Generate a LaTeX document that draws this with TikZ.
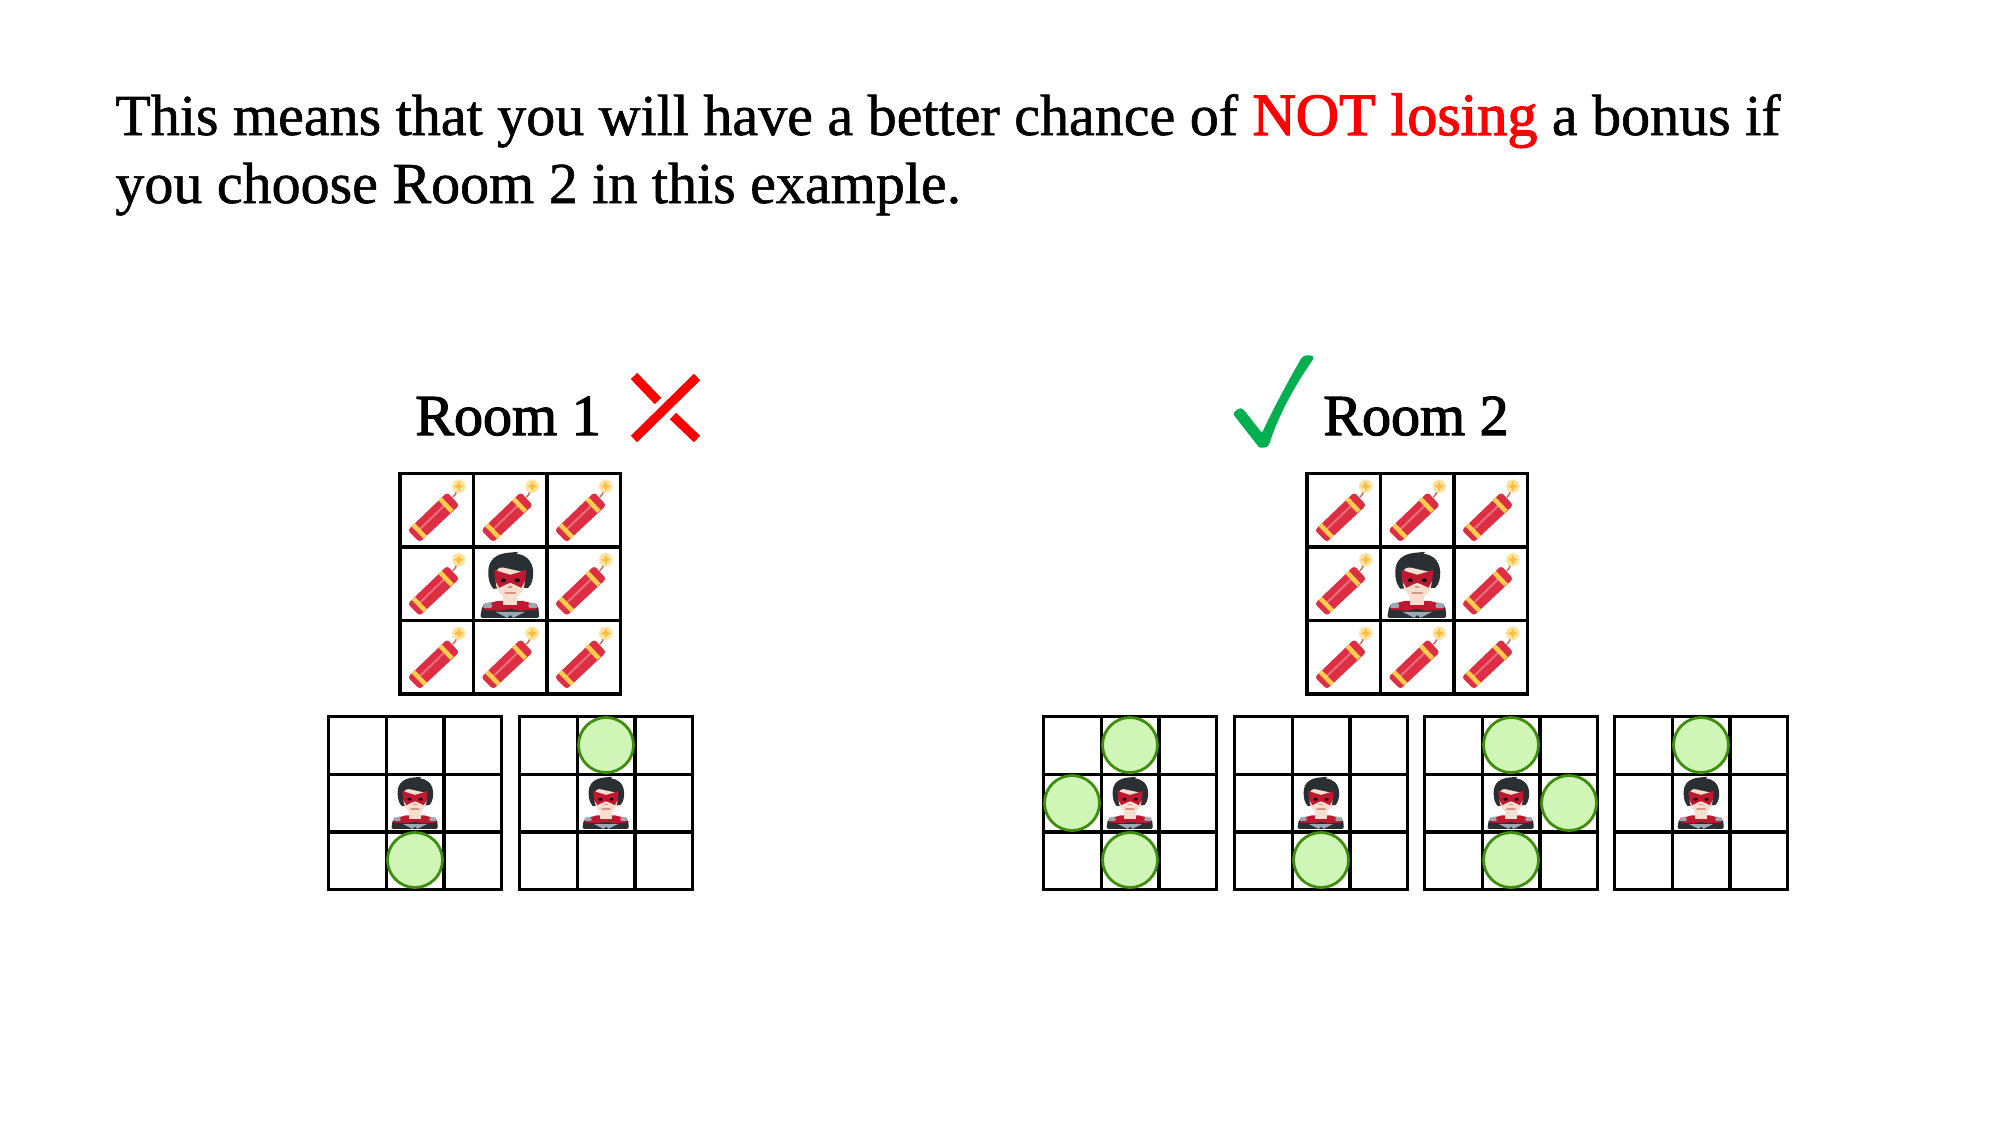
\documentclass[tikz,border=0pt]{standalone}
\usepackage{fontspec}
\setmainfont{Liberation Serif}
\newfontfamily\headfont[FakeBold=1]{Liberation Serif}
\newfontfamily\titlefont[FakeBold=2]{Liberation Serif}
\usepackage{tikz}
\definecolor{bang}{HTML}{DD2E44}
\definecolor{bandy}{HTML}{FFCC4D}
\definecolor{sparky}{HTML}{FDE3A0}
\definecolor{fuse}{HTML}{C1694F}
\definecolor{hair}{HTML}{292F33}
\definecolor{skin}{HTML}{F7DECE}
\definecolor{mask}{HTML}{BE1931}
\definecolor{steel}{HTML}{99AAB5}
\definecolor{tokenfill}{HTML}{CFF6B6}
\definecolor{tokenline}{HTML}{3E8E0C}
\definecolor{tick}{HTML}{00B050}
\tikzset{gridline/.style={draw=black,line width=1.6pt,line cap=rect},
token/.style={circle,draw=tokenline,fill=tokenfill,line width=1.4pt,minimum size=27.5pt,inner sep=0pt},
title/.style={font=\titlefont\fontsize{29}{29}\selectfont,anchor=base},
cross/.style={draw=red,line width=4.5pt},
pics/board/.style={code={
  \foreach \k in {0,1,2,3}{
    \draw[gridline] (\k*#1,0)--(\k*#1,3*#1) (0,\k*#1)--(3*#1,\k*#1);
  }}},
pics/dynamite/.style={code={
  \fill[bang,rounded corners=1.5pt] (-29,20)--(-17,32)--(22.5,-5)--(10.5,-18)--cycle;
  \draw[bang!70!white,line width=1pt] (-17,19)--(10,-7);
  \draw[bandy,line width=2.3pt] (-23.5,14.5)--(-11.5,27) (3.2,-11.5)--(15.2,1.2);
  \draw[fuse,line width=.7pt] (16,-13) .. controls (19,-15) and (20,-20) .. (22,-24);
  \fill[sparky] (22,-24) circle (6.7);
  \fill[bandy!80!orange] (22,-29)--(23.5,-25.5)--(27,-24)--(23.5,-22.5)--(22,-19)--(20.5,-22.5)--(17,-24)--(20.5,-25.5)--cycle;
  }},
pics/hero/.style={code={
  % body and shoulders
  \fill[hair,rounded corners=1pt] (-30,34)--(-28,22)--(-14,19)--(14,19)--(28,22)--(29,34)--cycle;
  \fill[mask] (-27,21)--(-12,17)--(12,17)--(27,21)--(26,26)--(10,27)--(0,25)--(-10,27)--(-26,26)--cycle;
  \fill[steel] (-27,24)--(-25,19)--(-22,20)--(-20,18)--(-18,22)--(-19,24)--cycle (27,24)--(25,19)--(22,20)--(20,18)--(18,22)--(19,24)--cycle;
  \fill[steel] (-15,28)--(15,28)--(7,32)--(3,34)--(0,31)--(-3,34)--(-7,32)--cycle;
  % hair, face, mask
  \fill[hair] (-22,-12) .. controls (-22,-24) and (-14,-30) .. (-2,-31) -- (8,-32) -- (6,-30) .. controls (15,-29) and (22,-24) .. (23,-12) .. controls (23,-5) and (22,0) .. (18,4) -- (-17,5) .. controls (-21,0) and (-22,-5) .. (-22,-12) -- cycle;
  \fill[skin] (-7,12) rectangle (7,21);
  \fill[skin] (-15,-6) .. controls (-15,-16) and (-10,-17) .. (-6,-16) -- (12,-12) .. controls (15,-8) and (15,-2) .. (14,2) .. controls (12,10) and (6,15) .. (0,15) .. controls (-6,15) and (-12,10) .. (-14,2) -- cycle;
  \fill[mask] (-16,-14)--(-7,-11)--(0,-9)--(7,-11)--(16,-14)--(15,-3)--(11,4)--(5,1)--(0,-1)--(-5,1)--(-11,4)--(-15,-3)--cycle;
  \fill[black] (-7,-3.5) ellipse (2.6 and 1.8) (7,-3.5) ellipse (2.6 and 1.8);
  \fill[fuse!70!white] (-2,2) rectangle (2,4);
  \draw[fuse!70!white,line width=.8pt,line cap=round] (-5,9)--(5,9);
  }}}
\begin{document}
\begin{tikzpicture}[x=.5pt,y=-.5pt]
\useasboundingbox (0,0) rectangle (2000,1125);
\node[anchor=base west,align=left,inner sep=0pt,font=\headfont\fontsize{29}{34}\selectfont] (headline) at (115,203) {This means that you will have a better chance of \textcolor{red}{\titlefont\fontsize{30}{34}\selectfont NOT losing} a bonus if\\you choose Room 2 in this example.};
\node[title] (room1) at (508,435) {Room 1};
\node[title] (room2) at (1416,435) {Room 2};
% red cross and green tick
\draw[cross] (634,439)--(697,377) (634,376)--(658,401) (673,416)--(697,439);
\fill[tick,rounded corners=1pt] (1233,414) .. controls (1236,410) and (1240,408) .. (1243,409) -- (1262,433) .. controls (1275,405) and (1290,378) .. (1302,357) .. controls (1306,355) and (1312,355) .. (1314,358) .. controls (1300,378) and (1280,410) .. (1269,445) .. controls (1266,448) and (1260,448) .. (1258,446) -- cycle;
% big boards
\foreach \bx in {400,1307}{
  \pic at (\bx,473.5) {board=73.5};
  \foreach \cx/\cy in {0/0,1/0,2/0,0/1,2/1,0/2,1/2,2/2}{
    \pic at (\bx+36.75+\cx*73.5,473.5+36.75+\cy*73.5) {dynamite};
  }
  \pic at (\bx+110.25,583.75) {hero};
}
% small boards
\foreach \sx in {328.5,519.5,1043.5,1234.5,1424.5,1614.5}{
  \pic at (\sx,716.5) {board=57.7};
  \pic[scale=.79] at (\sx+86.5,802) {hero};
}
\node[token] (a1) at (415,860) {};
\node[token] (b1) at (606,745) {};
\node[token] (c1) at (1130,745) {};
\node[token] (c2) at (1072,803) {};
\node[token] (c3) at (1130,860) {};
\node[token] (d1) at (1321,860) {};
\node[token] (e1) at (1511,745) {};
\node[token] (e2) at (1569,803) {};
\node[token] (e3) at (1511,860) {};
\node[token] (f1) at (1701,745) {};
\end{tikzpicture}
\end{document}
